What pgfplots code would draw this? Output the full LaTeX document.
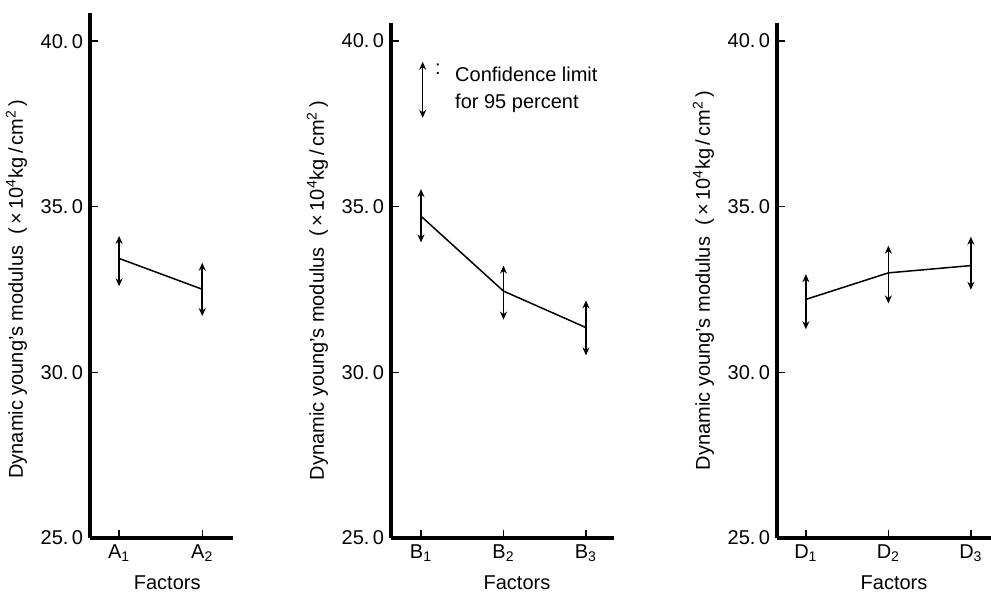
\documentclass[border=0pt]{standalone}
\usepackage{fontspec}
\setmainfont{Liberation Sans}
\usepackage{pgfplots}
\usepackage{pgfplotstable}
\pgfplotsset{compat=1.18}
\usetikzlibrary{arrows.meta}

% x  y(mean)  ep(upper limit - mean)  em(mean - lower limit)
\pgfplotstableread{
x y ep em
1 33.44 0.68 0.84
2 32.51 0.80 0.81
}\dataA
\pgfplotstableread{
x y ep em
1 34.71 0.82 0.79
2 32.45 0.77 0.86
3 31.35 0.82 0.84
}\dataB
\pgfplotstableread{
x y ep em
1 32.20 0.76 0.90
2 33.00 0.82 0.92
3 33.22 0.87 0.73
}\dataD

\pgfplotsset{
  panel/.style={
    scale only axis,
    anchor=south west,
    ymin=25,
    axis x line=bottom, axis y line=left,
    axis line style={-, line width=1.6pt},
    ytick={25,30,35,40},
    yticklabels={25.\,0,30.\,0,35.\,0,40.\,0},
    xtick={1,2,3},
    tick align=inside,
    major tick length=4pt,
    tick style={black, line width=0.7pt},
    tick label style={font=\fontsize{10}{12}\selectfont},
    label style={font=\fontsize{10}{12}\selectfont},
    xlabel={Factors},
    ylabel={Dynamic young's modulus\ \ (\,×\,10\textsuperscript{4}kg\,/\,cm\textsuperscript{2}\,)},
    clip=false,
  },
  % each half of an error bar is drawn from the mean outwards
  ci/.style={
    black, line width=0.75pt, mark=none,
    error bars/.cd, y dir=both, y explicit, error mark=none,
    error bar style={line width=0.8pt, -{Stealth[length=4pt,width=3.5pt]}},
  },
}

\begin{document}
\begin{tikzpicture}
\path[use as bounding box] (0,0) rectangle (495.5pt,297pt);

% panel A
\begin{axis}[panel,
  at={(45pt,28pt)}, width=71.5pt, height=262.5pt,
  xmin=0.65, xmax=2.37, ymax=40.85,
  xticklabels={A\textsubscript{1},A\textsubscript{2}},
  every axis y label/.append style={at={(ticklabel cs:0.474)}},
  every axis x label/.append style={at={(ticklabel cs:0.54)}},
]
  \addplot[ci] table[x=x, y=y, y error plus=ep, y error minus=em] {\dataA};
\end{axis}

% panel B
\begin{axis}[panel,
  at={(195.5pt,28pt)}, width=111.5pt, height=257.5pt,
  xmin=0.636, xmax=3.34, ymax=40.54,
  xticklabels={B\textsubscript{1},B\textsubscript{2},B\textsubscript{3}},
  every axis y label/.append style={at={(ticklabel cs:0.48)}},
  every axis x label/.append style={at={(ticklabel cs:0.565)}},
]
  \addplot[ci] table[x=x, y=y, y error plus=ep, y error minus=em] {\dataB};
  % key: one sample arrow
  \addplot[line width=0.8pt, {Stealth[length=4pt,width=3.5pt]}-{Stealth[length=4pt,width=3.5pt]}]
    coordinates {(1.02,37.68) (1.02,39.37)};
  \node[font=\fontsize{10}{12}\selectfont] at (axis cs:1.205,39.15) {:};
  \node[anchor=west, align=left, inner sep=0pt, font=\fontsize{10}{13.5}\selectfont]
    at (axis cs:1.41,38.51) {Confidence limit\\for 95 percent};
\end{axis}

% panel D
\begin{axis}[panel,
  at={(388.5pt,28pt)}, width=107pt, height=257.5pt,
  xmin=0.65, xmax=3.244, ymax=40.54,
  xticklabels={D\textsubscript{1},D\textsubscript{2},D\textsubscript{3}},
  every axis y label/.append style={at={(ticklabel cs:0.50)}},
  every axis x label/.append style={at={(ticklabel cs:0.547)}},
]
  \addplot[ci] table[x=x, y=y, y error plus=ep, y error minus=em] {\dataD};
\end{axis}
\end{tikzpicture}
\end{document}
